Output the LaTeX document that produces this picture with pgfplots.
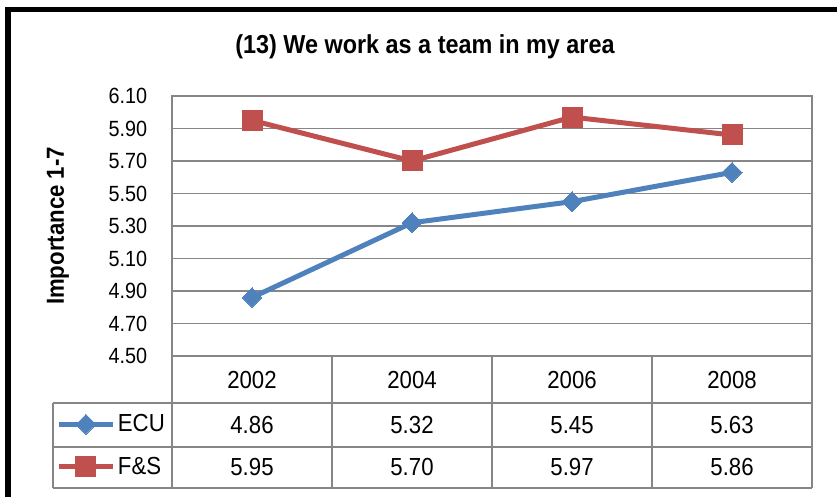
\documentclass[border=0pt]{standalone}
\usepackage{pgfplots}
\pgfplotsset{compat=1.18}
\usepackage{fontspec}
\setmainfont[FakeStretch=0.9]{Liberation Sans}
\definecolor{ecu}{RGB}{79,129,189}
\definecolor{fs}{RGB}{192,80,77}
\definecolor{gridc}{RGB}{134,134,134}
\begin{document}
\begin{tikzpicture}[x=0.75pt,y=0.75pt]
\draw[line width=3.9pt] (8,-30) -- (8,486.5) -- (870,486.5);
\begin{axis}[
  at={(129pt,105pt)}, anchor=south west,
  scale only axis, width=480pt, height=195pt,
  xmin=-0.5, xmax=3.5, ymin=4.5, ymax=6.1,
  ytick={4.5,4.7,4.9,5.1,5.3,5.5,5.7,5.9,6.1},
  yticklabel={\pgfmathprintnumber[fixed,fixed zerofill,precision=2]{\tick}},
  /pgf/number format/assume math mode=true,
  xtick=\empty,
  ymajorgrids, grid style={gridc, line width=0.9pt},
  axis line style={gridc, line width=0.9pt},
  major tick length=0pt,
  yticklabel style={font=\fontsize{16.5}{18}\selectfont, inner sep=0pt, anchor=east, xshift=-18.5pt},
  clip=false,
  legend style={at={(-0.18125,-0.1808)}, anchor=north west, draw=none, fill=none,
    inner sep=0pt, outer sep=0pt, row sep=0pt, column sep=1.5pt,
    font=\fontsize{18.5}{20}\selectfont,
    nodes={inner sep=0pt, minimum height=31.9pt, anchor=west}},
  legend cell align=left,
  legend image code/.code={\draw[mark repeat=2, mark phase=2] plot coordinates {(0pt,0pt) (20.6pt,0pt) (41.2pt,0pt)};},
]
\addplot[color=ecu, line width=3.75pt, mark=square*, mark size=5.3pt, mark options={rotate=45, solid, fill=ecu, draw=ecu, line width=0pt}]
  coordinates {(0,4.86) (1,5.32) (2,5.45) (3,5.63)};
\addlegendentry{ECU}
\addplot[color=fs, line width=3.75pt, mark=square*, mark size=7.5pt, mark options={solid, fill=fs, draw=fs, line width=0pt}]
  coordinates {(0,5.95) (1,5.70) (2,5.97) (3,5.86)};
\addlegendentry{F\&S}
\end{axis}
% data table grid
\begin{scope}[draw=gridc, line width=0.9pt]
\draw (53,93) -- (812,93);
\draw (53,49) -- (812,49);
\draw (53,8) -- (812,8);
\draw (53,93) -- (53,8);
\foreach \xx in {172,332,492,652,812} \draw (\xx,140) -- (\xx,8);
\end{scope}
\begin{scope}[every node/.style={font=\fontsize{18.5}{20}\selectfont, inner sep=0pt}]
\node at (252,116) {2002};
\node at (412,116) {2004};
\node at (572,116) {2006};
\node at (732,116) {2008};
\node at (252,71) {4.86};
\node at (412,71) {5.32};
\node at (572,71) {5.45};
\node at (732,71) {5.63};
\node at (252,28.5) {5.95};
\node at (412,28.5) {5.70};
\node at (572,28.5) {5.97};
\node at (732,28.5) {5.86};
\end{scope}
\node[font=\fontsize{19.5}{22}\selectfont\bfseries] at (425,449) {(13) We work as a team in my area};
\node[rotate=90, font=\fontsize{18.5}{20}\selectfont\bfseries] at (58,270) {Importance 1-7};
\pgfresetboundingbox
\useasboundingbox (0,0) rectangle (837,496);
\end{tikzpicture}
\end{document}
